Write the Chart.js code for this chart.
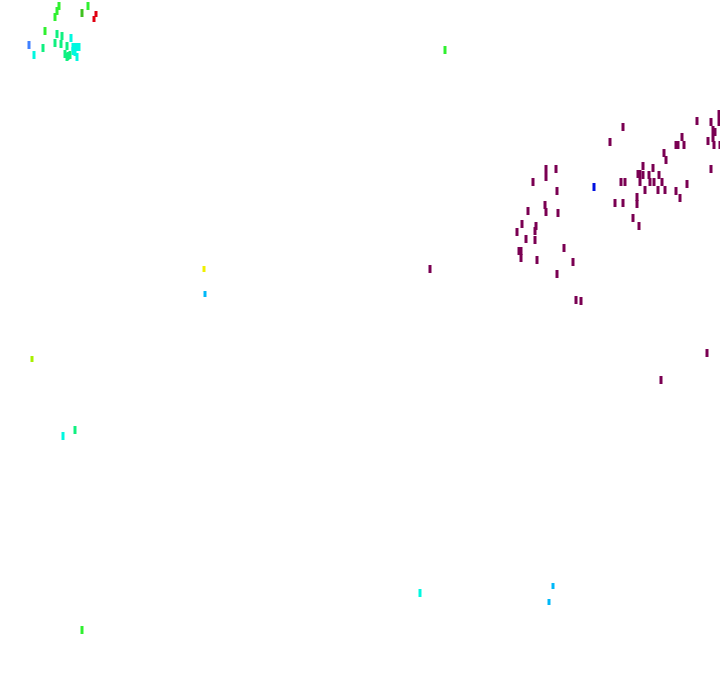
<!DOCTYPE html>
<html>
<head>
<meta charset="utf-8">
<script src="https://cdn.jsdelivr.net/npm/chart.js@4/dist/chart.umd.min.js"></script>
<style>
  html, body { margin: 0; padding: 0; background: #fff; }
  #wrap { width: 720px; height: 692px; }
</style>
</head>
<body>
<div id="wrap"><canvas id="marks" width="720" height="692"></canvas></div>
<script>
// positions of the short vertical strokes, one series per colour
const maroonX = [546, 546, 556, 533, 557, 545, 546, 528, 558, 522, 536, 535, 517, 526, 535, 519, 521, 521, 564, 537, 573, 557, 576, 581,
                 623, 610, 697, 711, 719, 719, 713, 715, 713, 708, 714, 720, 682, 676, 678, 684, 664, 666, 643, 653, 638, 640, 643, 649, 659,
                 640, 645, 650, 654, 662, 658, 665, 676, 680, 687, 711, 637, 637, 615, 623, 621, 625, 633, 639, 707, 661, 430];
const maroonY = [169, 177, 169, 182, 191, 205, 212, 211, 213, 224, 226, 231, 232, 239, 240, 251, 251, 258, 248, 260, 262, 274, 300, 301,
                 127, 142, 121, 122, 114, 122, 130, 132, 138, 141, 145, 145, 137, 145, 145, 145, 153, 160, 166, 168, 174, 174, 175, 175, 175,
                 182, 190, 182, 182, 182, 190, 190, 191, 198, 184, 169, 197, 204, 203, 203, 182, 182, 218, 226, 353, 380, 269];

const greenX = [59, 57, 55, 88, 45, 445, 82];
const greenY = [6, 11, 17, 6, 31, 50, 630];

const darkGreenX = [82];
const darkGreenY = [13];

const springX = [43, 57, 55, 62, 61, 67, 65, 67, 68, 70, 75];
const springY = [48, 34, 43, 36, 44, 46, 54, 57, 56, 55, 430];

const cyanX = [34, 71, 73, 75, 77, 79, 73, 75, 77, 63, 420];
const cyanY = [55, 38, 47, 47, 47, 47, 51, 52, 57, 436, 593];

const skyX = [205, 553, 549];
const skyY = [294, 586, 602];

const blueX = [29];
const blueY = [45];

const deepBlueX = [594];
const deepBlueY = [187];

const redX = [96, 94];
const redY = [14, 19];

const yellowX = [204];
const yellowY = [269];

const limeX = [32];
const limeY = [359];

function pts(xs, ys) {
    return xs.map((x, i) => ({ x: x, y: ys[i] }));
}

function strokes(xs, ys, color, len) {
    return {
        data: pts(xs, ys),
        pointStyle: 'line',
        rotation: 90,
        radius: len,
        hoverRadius: len,
        borderColor: color,
        backgroundColor: color,
        borderWidth: 3,
        showLine: false
    };
}

new Chart(document.getElementById('marks'), {
    type: 'scatter',
    data: {
        datasets: [
            strokes(maroonX, maroonY, '#7a0052', 4),
            strokes(greenX, greenY, '#30f030', 4),
            strokes(darkGreenX, darkGreenY, '#40c020', 4),
            strokes(springX, springY, '#10f080', 4),
            strokes(cyanX, cyanY, '#00f8e0', 4),
            strokes(skyX, skyY, '#00b8f8', 3),
            strokes(blueX, blueY, '#4080ff', 4),
            strokes(deepBlueX, deepBlueY, '#0010e0', 4),
            strokes(redX, redY, '#e00010', 3),
            strokes(yellowX, yellowY, '#f0f000', 3),
            strokes(limeX, limeY, '#a8f000', 3)
        ]
    },
    options: {
        responsive: false,
        animation: false,
        layout: { padding: 0, autoPadding: false },
        plugins: {
            legend: { display: false },
            tooltip: { enabled: false }
        },
        scales: {
            x: { type: 'linear', min: 0, max: 720, display: false },
            y: { type: 'linear', min: 0, max: 692, reverse: true, display: false }
        }
    }
});
</script>
</body>
</html>
